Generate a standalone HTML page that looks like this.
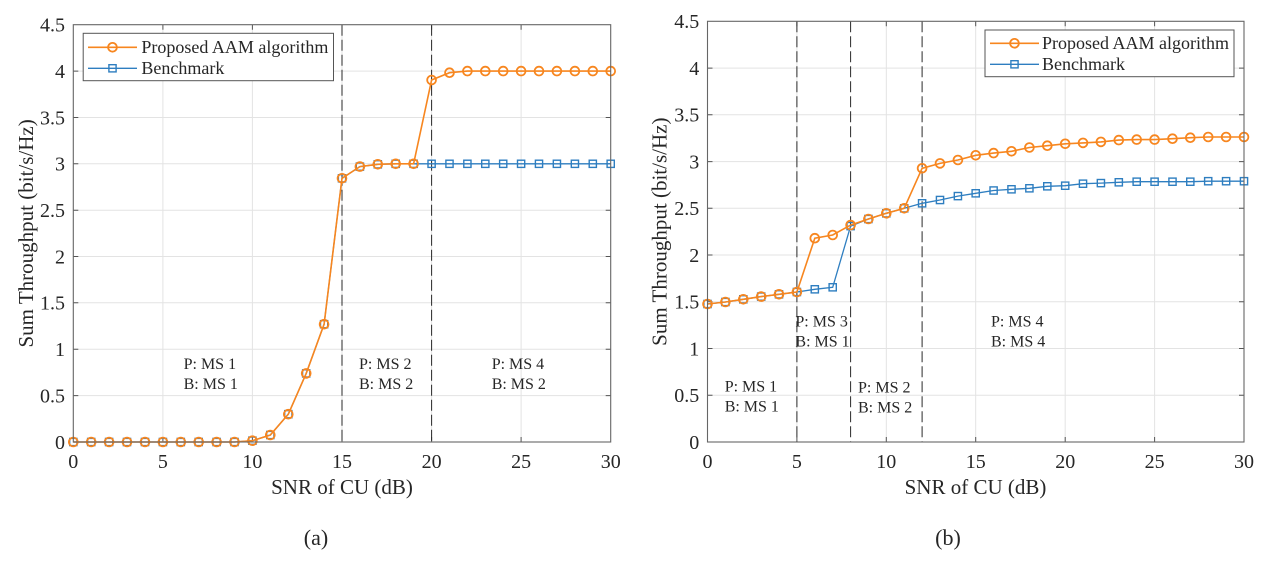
<!DOCTYPE html>
<html>
<head>
<meta charset="utf-8">
<style>
html,body{margin:0;padding:0;background:#fff;}
svg{display:block;}
text{font-family:"Liberation Serif","DejaVu Serif",serif;fill:#262626;}
</style>
</head>
<body>
<svg width="1270" height="569" viewBox="0 0 1270 569" xmlns="http://www.w3.org/2000/svg">
<defs>
<marker id="mo" markerWidth="12" markerHeight="12" refX="6" refY="6" markerUnits="userSpaceOnUse" style="overflow:visible">
<circle cx="6" cy="6" r="4.4" fill="none" stroke="#F7861F" stroke-width="1.8"/>
</marker>
<marker id="mb" markerWidth="12" markerHeight="12" refX="6" refY="6" markerUnits="userSpaceOnUse" style="overflow:visible">
<rect x="2.4" y="2.4" width="7.2" height="7.2" fill="none" stroke="#2E7EC0" stroke-width="1.4"/>
</marker>
</defs>
<rect width="1270" height="569" fill="#fff"/>

<!-- ============ LEFT CHART (a) ============ -->
<g>
<g stroke="#e3e3e3" stroke-width="1">
<line x1="162.9" y1="24.7" x2="162.9" y2="442"/>
<line x1="252.4" y1="24.7" x2="252.4" y2="442"/>
<line x1="342.0" y1="24.7" x2="342.0" y2="442"/>
<line x1="431.6" y1="24.7" x2="431.6" y2="442"/>
<line x1="521.1" y1="24.7" x2="521.1" y2="442"/>
<line x1="73.3" y1="395.6" x2="610.7" y2="395.6"/>
<line x1="73.3" y1="349.3" x2="610.7" y2="349.3"/>
<line x1="73.3" y1="302.8" x2="610.7" y2="302.8"/>
<line x1="73.3" y1="256.5" x2="610.7" y2="256.5"/>
<line x1="73.3" y1="210.2" x2="610.7" y2="210.2"/>
<line x1="73.3" y1="163.8" x2="610.7" y2="163.8"/>
<line x1="73.3" y1="117.5" x2="610.7" y2="117.5"/>
<line x1="73.3" y1="71.1" x2="610.7" y2="71.1"/>
</g>
<g stroke="#555" stroke-width="1">
<path d="M162.9 442v-5M252.4 442v-5M342 442v-5M431.6 442v-5M521.1 442v-5
M162.9 24.7v5M252.4 24.7v5M342 24.7v5M431.6 24.7v5M521.1 24.7v5
M73.3 395.6h5M73.3 349.3h5M73.3 302.8h5M73.3 256.5h5M73.3 210.2h5M73.3 163.8h5M73.3 117.5h5M73.3 71.1h5
M610.7 395.6h-5M610.7 349.3h-5M610.7 302.8h-5M610.7 256.5h-5M610.7 210.2h-5M610.7 163.8h-5M610.7 117.5h-5M610.7 71.1h-5"/>
</g>
<g stroke="#2a2a2a" stroke-width="1" stroke-dasharray="11,4">
<line x1="342.0" y1="24.7" x2="342.0" y2="442"/>
<line x1="431.6" y1="24.7" x2="431.6" y2="442"/>
</g>
<polyline fill="none" stroke="#2E7EC0" stroke-width="1.3" marker-start="url(#mb)" marker-mid="url(#mb)" marker-end="url(#mb)"
points="73.3,442 91.2,442 109.1,442 127.0,442 145.0,442 162.9,442 180.8,442 198.7,442 216.6,442 234.5,442 252.4,440.7 270.3,435.0 288.3,414.2 306.2,373.4 324.1,324.2 342.0,178.3 359.9,166.6 377.8,164.3 395.7,163.8 413.6,163.8 431.6,163.8 449.5,163.8 467.4,163.8 485.3,163.8 503.2,163.8 521.1,163.8 539.0,163.8 556.9,163.8 574.9,163.8 592.8,163.8 610.7,163.8"/>
<polyline fill="none" stroke="#F7861F" stroke-width="1.6" marker-start="url(#mo)" marker-mid="url(#mo)" marker-end="url(#mo)"
points="73.3,442 91.2,442 109.1,442 127.0,442 145.0,442 162.9,442 180.8,442 198.7,442 216.6,442 234.5,442 252.4,440.7 270.3,435.0 288.3,414.2 306.2,373.4 324.1,324.2 342.0,178.3 359.9,166.6 377.8,164.3 395.7,163.8 413.6,163.8 431.6,80.0 449.5,72.7 467.4,71.1 485.3,71.1 503.2,71.1 521.1,71.1 539.0,71.1 556.9,71.1 574.9,71.1 592.8,71.1 610.7,71.1"/>
<rect x="73.3" y="24.7" width="537.4" height="417.3" fill="none" stroke="#666" stroke-width="1.1"/>
<g font-size="20" text-anchor="end">
<text x="65" y="448.8">0</text>
<text x="65" y="402.4">0.5</text>
<text x="65" y="356.1">1</text>
<text x="65" y="309.6">1.5</text>
<text x="65" y="263.3">2</text>
<text x="65" y="217.0">2.5</text>
<text x="65" y="170.6">3</text>
<text x="65" y="124.3">3.5</text>
<text x="65" y="77.9">4</text>
<text x="65" y="31.5">4.5</text>
</g>
<g font-size="20" text-anchor="middle">
<text x="73.3" y="468">0</text>
<text x="162.9" y="468">5</text>
<text x="252.4" y="468">10</text>
<text x="342.0" y="468">15</text>
<text x="431.6" y="468">20</text>
<text x="521.1" y="468">25</text>
<text x="610.7" y="468">30</text>
</g>
<text x="342" y="494" font-size="21" text-anchor="middle">SNR of CU (dB)</text>
<text transform="translate(33,233.4) rotate(-90)" font-size="21" text-anchor="middle">Sum Throughput (bit/s/Hz)</text>
<g font-size="16">
<text x="183.6" y="369">P: MS 1</text>
<text x="183.6" y="389">B: MS 1</text>
<text x="359" y="369">P: MS 2</text>
<text x="359" y="389">B: MS 2</text>
<text x="491.7" y="369">P: MS 4</text>
<text x="491.7" y="389">B: MS 2</text>
</g>
<rect x="83.2" y="33.3" width="250.3" height="47.4" fill="#fff" stroke="#555" stroke-width="1"/>
<line x1="88" y1="47.3" x2="137" y2="47.3" stroke="#F7861F" stroke-width="1.6"/>
<circle cx="112.5" cy="47.3" r="4.4" fill="none" stroke="#F7861F" stroke-width="1.8"/>
<line x1="88" y1="68.3" x2="137" y2="68.3" stroke="#2E7EC0" stroke-width="1.3"/>
<rect x="108.9" y="64.7" width="7.2" height="7.2" fill="none" stroke="#2E7EC0" stroke-width="1.4"/>
<text x="141.4" y="53.2" font-size="18">Proposed AAM algorithm</text>
<text x="141.4" y="74.2" font-size="18">Benchmark</text>
<text x="316" y="545" font-size="22" text-anchor="middle">(a)</text>
</g>

<!-- ============ RIGHT CHART (b) ============ -->
<g>
<g stroke="#e3e3e3" stroke-width="1">
<line x1="796.9" y1="21.3" x2="796.9" y2="442"/>
<line x1="886.3" y1="21.3" x2="886.3" y2="442"/>
<line x1="975.7" y1="21.3" x2="975.7" y2="442"/>
<line x1="1065.2" y1="21.3" x2="1065.2" y2="442"/>
<line x1="1154.6" y1="21.3" x2="1154.6" y2="442"/>
<line x1="707.5" y1="395.3" x2="1244" y2="395.3"/>
<line x1="707.5" y1="348.5" x2="1244" y2="348.5"/>
<line x1="707.5" y1="301.8" x2="1244" y2="301.8"/>
<line x1="707.5" y1="255.0" x2="1244" y2="255.0"/>
<line x1="707.5" y1="208.3" x2="1244" y2="208.3"/>
<line x1="707.5" y1="161.6" x2="1244" y2="161.6"/>
<line x1="707.5" y1="114.8" x2="1244" y2="114.8"/>
<line x1="707.5" y1="68.1" x2="1244" y2="68.1"/>
</g>
<g stroke="#555" stroke-width="1">
<path d="M796.9 442v-5M886.3 442v-5M975.7 442v-5M1065.2 442v-5M1154.6 442v-5
M796.9 21.3v5M886.3 21.3v5M975.7 21.3v5M1065.2 21.3v5M1154.6 21.3v5
M707.5 395.3h5M707.5 348.5h5M707.5 301.8h5M707.5 255h5M707.5 208.3h5M707.5 161.6h5M707.5 114.8h5M707.5 68.1h5
M1244 395.3h-5M1244 348.5h-5M1244 301.8h-5M1244 255h-5M1244 208.3h-5M1244 161.6h-5M1244 114.8h-5M1244 68.1h-5"/>
</g>
<g stroke="#2a2a2a" stroke-width="1" stroke-dasharray="11,4">
<line x1="796.9" y1="21.3" x2="796.9" y2="442"/>
<line x1="850.6" y1="21.3" x2="850.6" y2="442"/>
<line x1="922.1" y1="21.3" x2="922.1" y2="442"/>
</g>
<polyline fill="none" stroke="#2E7EC0" stroke-width="1.3" marker-start="url(#mb)" marker-mid="url(#mb)" marker-end="url(#mb)"
points="707.5,304.0 725.4,302.0 743.3,299.3 761.2,296.6 779.0,294.3 796.9,292.0 814.8,289.3 832.7,287.3 850.6,226.1 868.4,219.0 886.3,213.3 904.2,208.3 922.1,203.3 940.0,200.0 957.9,196.1 975.7,193.3 993.6,190.5 1011.5,189.3 1029.4,188.3 1047.3,186.3 1065.2,185.7 1083.0,183.7 1100.9,183.1 1118.8,182.3 1136.7,181.7 1154.6,181.7 1172.5,181.7 1190.3,181.7 1208.2,181.2 1226.1,181.2 1244.0,181.2"/>
<polyline fill="none" stroke="#F7861F" stroke-width="1.6" marker-start="url(#mo)" marker-mid="url(#mo)" marker-end="url(#mo)"
points="707.5,304.0 725.4,302.0 743.3,299.3 761.2,296.6 779.0,294.3 796.9,292.0 814.8,238.2 832.7,235.0 850.6,225.1 868.4,219.0 886.3,213.3 904.2,208.3 922.1,168.3 940.0,163.4 957.9,160.0 975.7,155.3 993.6,153.1 1011.5,151.3 1029.4,147.5 1047.3,145.7 1065.2,143.8 1083.0,142.9 1100.9,141.9 1118.8,140.1 1136.7,139.6 1154.6,139.6 1172.5,138.7 1190.3,137.7 1208.2,137.0 1226.1,137.0 1244.0,137.0"/>
<rect x="707.5" y="21.3" width="536.5" height="420.7" fill="none" stroke="#666" stroke-width="1.1"/>
<g font-size="20" text-anchor="end">
<text x="699.3" y="448.8">0</text>
<text x="699.3" y="402.1">0.5</text>
<text x="699.3" y="355.3">1</text>
<text x="699.3" y="308.6">1.5</text>
<text x="699.3" y="261.8">2</text>
<text x="699.3" y="215.1">2.5</text>
<text x="699.3" y="168.4">3</text>
<text x="699.3" y="121.6">3.5</text>
<text x="699.3" y="74.9">4</text>
<text x="699.3" y="28.1">4.5</text>
</g>
<g font-size="20" text-anchor="middle">
<text x="707.5" y="468">0</text>
<text x="796.9" y="468">5</text>
<text x="886.3" y="468">10</text>
<text x="975.7" y="468">15</text>
<text x="1065.2" y="468">20</text>
<text x="1154.6" y="468">25</text>
<text x="1244" y="468">30</text>
</g>
<text x="975.5" y="494" font-size="21" text-anchor="middle">SNR of CU (dB)</text>
<text transform="translate(666.5,231.7) rotate(-90)" font-size="21" text-anchor="middle">Sum Throughput (bit/s/Hz)</text>
<g font-size="16">
<text x="795.4" y="326.5">P: MS 3</text>
<text x="795.4" y="346.5">B: MS 1</text>
<text x="991" y="326.5">P: MS 4</text>
<text x="991" y="346.5">B: MS 4</text>
<text x="724.7" y="391.5">P: MS 1</text>
<text x="724.7" y="411.5">B: MS 1</text>
<text x="858" y="392.3">P: MS 2</text>
<text x="858" y="412.3">B: MS 2</text>
</g>
<rect x="985" y="30" width="249" height="46.7" fill="#fff" stroke="#555" stroke-width="1"/>
<line x1="990" y1="43.3" x2="1039" y2="43.3" stroke="#F7861F" stroke-width="1.6"/>
<circle cx="1014.5" cy="43.3" r="4.4" fill="none" stroke="#F7861F" stroke-width="1.8"/>
<line x1="990" y1="64.3" x2="1039" y2="64.3" stroke="#2E7EC0" stroke-width="1.3"/>
<rect x="1010.9" y="60.7" width="7.2" height="7.2" fill="none" stroke="#2E7EC0" stroke-width="1.4"/>
<text x="1042" y="49.2" font-size="18">Proposed AAM algorithm</text>
<text x="1042" y="70.2" font-size="18">Benchmark</text>
<text x="948" y="545" font-size="22" text-anchor="middle">(b)</text>
</g>
</svg>
</body>
</html>
